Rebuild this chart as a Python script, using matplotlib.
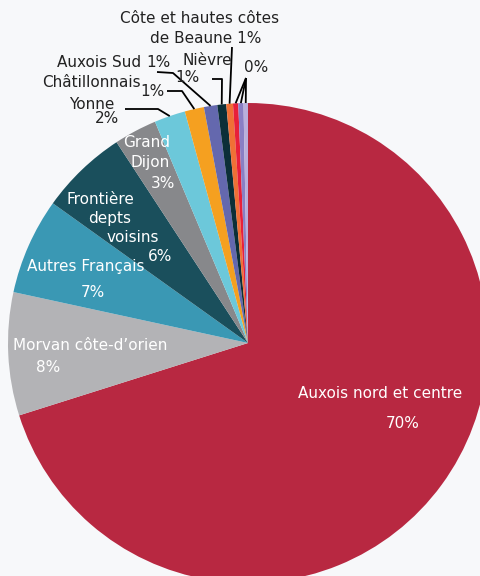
import matplotlib.pyplot as plt
from matplotlib.lines import Line2D
import numpy as np

# Données (parts en %)
categories = ["Auxois nord et centre", "Morvan côte-d’orien", "Autres Français",
              "Frontière depts voisins", "Grand Dijon", "Yonne", "Châtillonnais",
              "Auxois Sud", "Nièvre", "Côte et hautes côtes de Beaune",
              "Autre 1", "Autre 2", "Autre 3"]
values = [70.3, 8.3, 6.5, 5.9, 2.9, 2.1, 1.3, 0.9, 0.6, 0.45, 0.35, 0.35, 0.3]
pct_labels = ["70%", "8%", "7%", "6%", "3%", "2%", "1%", "1%", "1%", "1%", "0%", "0%", "0%"]
colors = ["#b82841", "#b3b3b6", "#3a98b4", "#1a4f5c", "#87888b", "#6cc8da", "#f5a020",
          "#6468ae", "#0c2f38", "#f07036", "#e8203a", "#8a7fc4", "#b9b0dc"]

BG = "#f7f8fa"
W, H = 481, 576
CX, CY, R = 248, 343, 240   # centre et rayon du camembert en pixels


def px(x, y):
    """pixels de l'image -> coordonnées données (rayon = 1)"""
    return (x - CX) / R, (CY - y) / R


def main():
    fig = plt.figure(figsize=(W / 100, H / 100), dpi=100, facecolor=BG)
    ax = fig.add_axes([0, 0, 1, 1])
    ax.set_facecolor(BG)

    wedges, _ = ax.pie(values, colors=colors, startangle=90, counterclock=False,
                       radius=1, center=(0, 0),
                       wedgeprops=dict(linewidth=0, antialiased=True))
    x0, y1 = px(0, 0)
    x1, y0 = px(W, H)
    ax.set_xlim(x0, x1)
    ax.set_ylim(y0, y1)
    ax.set_aspect("equal")
    ax.axis("off")

    def arc_point(i, frac=0.5, r=1.0):
        w = wedges[i]
        a = np.deg2rad(w.theta1 + (w.theta2 - w.theta1) * frac)
        return r * np.cos(a), r * np.sin(a)

    inner = dict(color="white", fontsize=11, ha="center", va="center")
    # étiquettes intérieures
    for txt, (x, y) in [("Auxois nord et centre", (380, 393)), ("70%", (403, 423)),
                        ("Morvan côte-d’orien", (90, 346)), ("8%", (48, 368)),
                        ("Autres Français", (86, 266)), ("7%", (93, 292)),
                        ("Frontière", (100, 199)), ("depts", (110, 218)),
                        ("voisins", (133, 237)), ("6%", (160, 256)),
                        ("Grand", (147, 142)), ("Dijon", (150, 162)), ("3%", (163, 183))]:
        ax.text(*px(x, y), txt, **inner)

    outer = dict(color="#222222", fontsize=11, va="center")
    ax.text(*px(114, 104), "Yonne", ha="right", **outer)
    ax.text(*px(119, 118), pct_labels[5], ha="right", **outer)
    ax.text(*px(141, 82), "Châtillonnais", ha="right", **outer)
    ax.text(*px(165, 91), pct_labels[6], ha="right", **outer)
    ax.text(*px(141, 62), "Auxois Sud", ha="right", **outer)
    ax.text(*px(171, 62), pct_labels[7], ha="right", **outer)
    ax.text(*px(207, 60), "Nièvre", ha="center", **outer)
    ax.text(*px(200, 77), pct_labels[8], ha="right", **outer)
    ax.text(*px(200, 18), "Côte et hautes côtes", ha="center", **outer)
    ax.text(*px(261, 38), "de Beaune " + pct_labels[9], ha="right", **outer)
    ax.text(*px(256, 67), pct_labels[10], ha="center", **outer)

    lk = dict(color="black", lw=1.3, solid_capstyle="butt")

    def leader(i, pts):
        xs = [px(*p)[0] for p in pts]
        ys = [px(*p)[1] for p in pts]
        ex, ey = arc_point(i, 0.5, 1.0)
        ax.add_line(Line2D(xs + [ex], ys + [ey], **lk))

    leader(5, [(125, 109), (158, 109)])
    leader(6, [(167, 91), (182, 91)])
    leader(7, [(157, 72), (173, 73)])
    leader(8, [(212, 79), (222, 79)])
    leader(9, [(232, 47)])
    for i in (10, 11, 12):
        leader(i, [(246, 78)])

    fig.savefig("out.png", dpi=100, facecolor=BG)


if __name__ == '__main__':
    main()
